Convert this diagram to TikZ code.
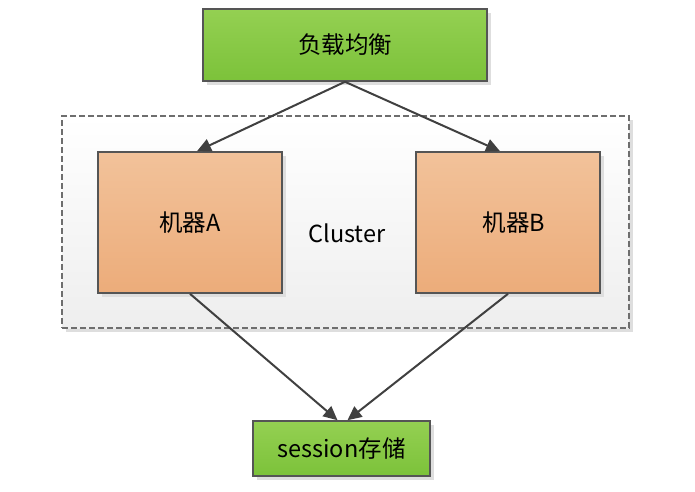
\documentclass[tikz,border=0pt]{standalone}
\usepackage{fontspec}
\setmainfont{Noto Sans CJK SC}
\usetikzlibrary{arrows.meta,shadows}
\definecolor{edge}{RGB}{85,85,85}
\definecolor{arrowc}{RGB}{64,64,64}
\definecolor{greentop}{RGB}{148,208,82}
\definecolor{greenbot}{RGB}{124,194,58}
\definecolor{orangetop}{RGB}{242,194,154}
\definecolor{orangebot}{RGB}{236,172,122}
\definecolor{clustbot}{RGB}{238,238,238}
\definecolor{shadowc}{RGB}{222,222,222}
\tikzset{
  x=1pt, y=-1pt,
  txt/.style={font=\fontsize{23.5}{28}\selectfont},
  boxshadow/.style={drop shadow={shadow xshift=4pt, shadow yshift=-4pt, fill=shadowc, opacity=1}},
  greenbox/.style={draw=edge, line width=1.6pt, top color=greentop, bottom color=greenbot, boxshadow, inner sep=0pt, txt},
  orangebox/.style={draw=edge, line width=1.6pt, top color=orangetop, bottom color=orangebot, boxshadow, inner sep=0pt, minimum width=184pt, minimum height=141pt, txt},
  clusterbox/.style={draw=edge!85, line width=1.3pt, dash pattern=on 6pt off 3pt, top color=white, bottom color=clustbot, boxshadow, inner sep=0pt, minimum width=567pt, minimum height=212pt},
  conn/.style={draw=arrowc, line width=2pt, -{Triangle[length=14pt,width=13pt]}},
}
\begin{document}
\begin{tikzpicture}
\useasboundingbox (0,0) rectangle (695,491);
\node[clusterbox] (cluster) at (345.5,222) {};
\node[txt] (clabel) at (347,233) {Cluster};
\node[greenbox, minimum width=284pt, minimum height=72pt] (lb) at (345,45) {负载均衡};
\node[orangebox] (ma) at (190,222.5) {机器A};
\node[orangebox, text width=184pt, align=center] (mb) at (508,222.5) {\hspace*{12pt}机器B};
\node[greenbox, minimum width=177pt, minimum height=55pt] (ss) at (341.5,448.5) {session存储};
\draw[conn] (lb.south) -- ([xshift=7pt]ma.north);
\draw[conn] (lb.south) -- ([xshift=-8pt]mb.north);
\draw[conn] (ma.south) -- ([xshift=-4pt]ss.north);
\draw[conn] (mb.south) -- ([xshift=6pt]ss.north);
\end{tikzpicture}
\end{document}
